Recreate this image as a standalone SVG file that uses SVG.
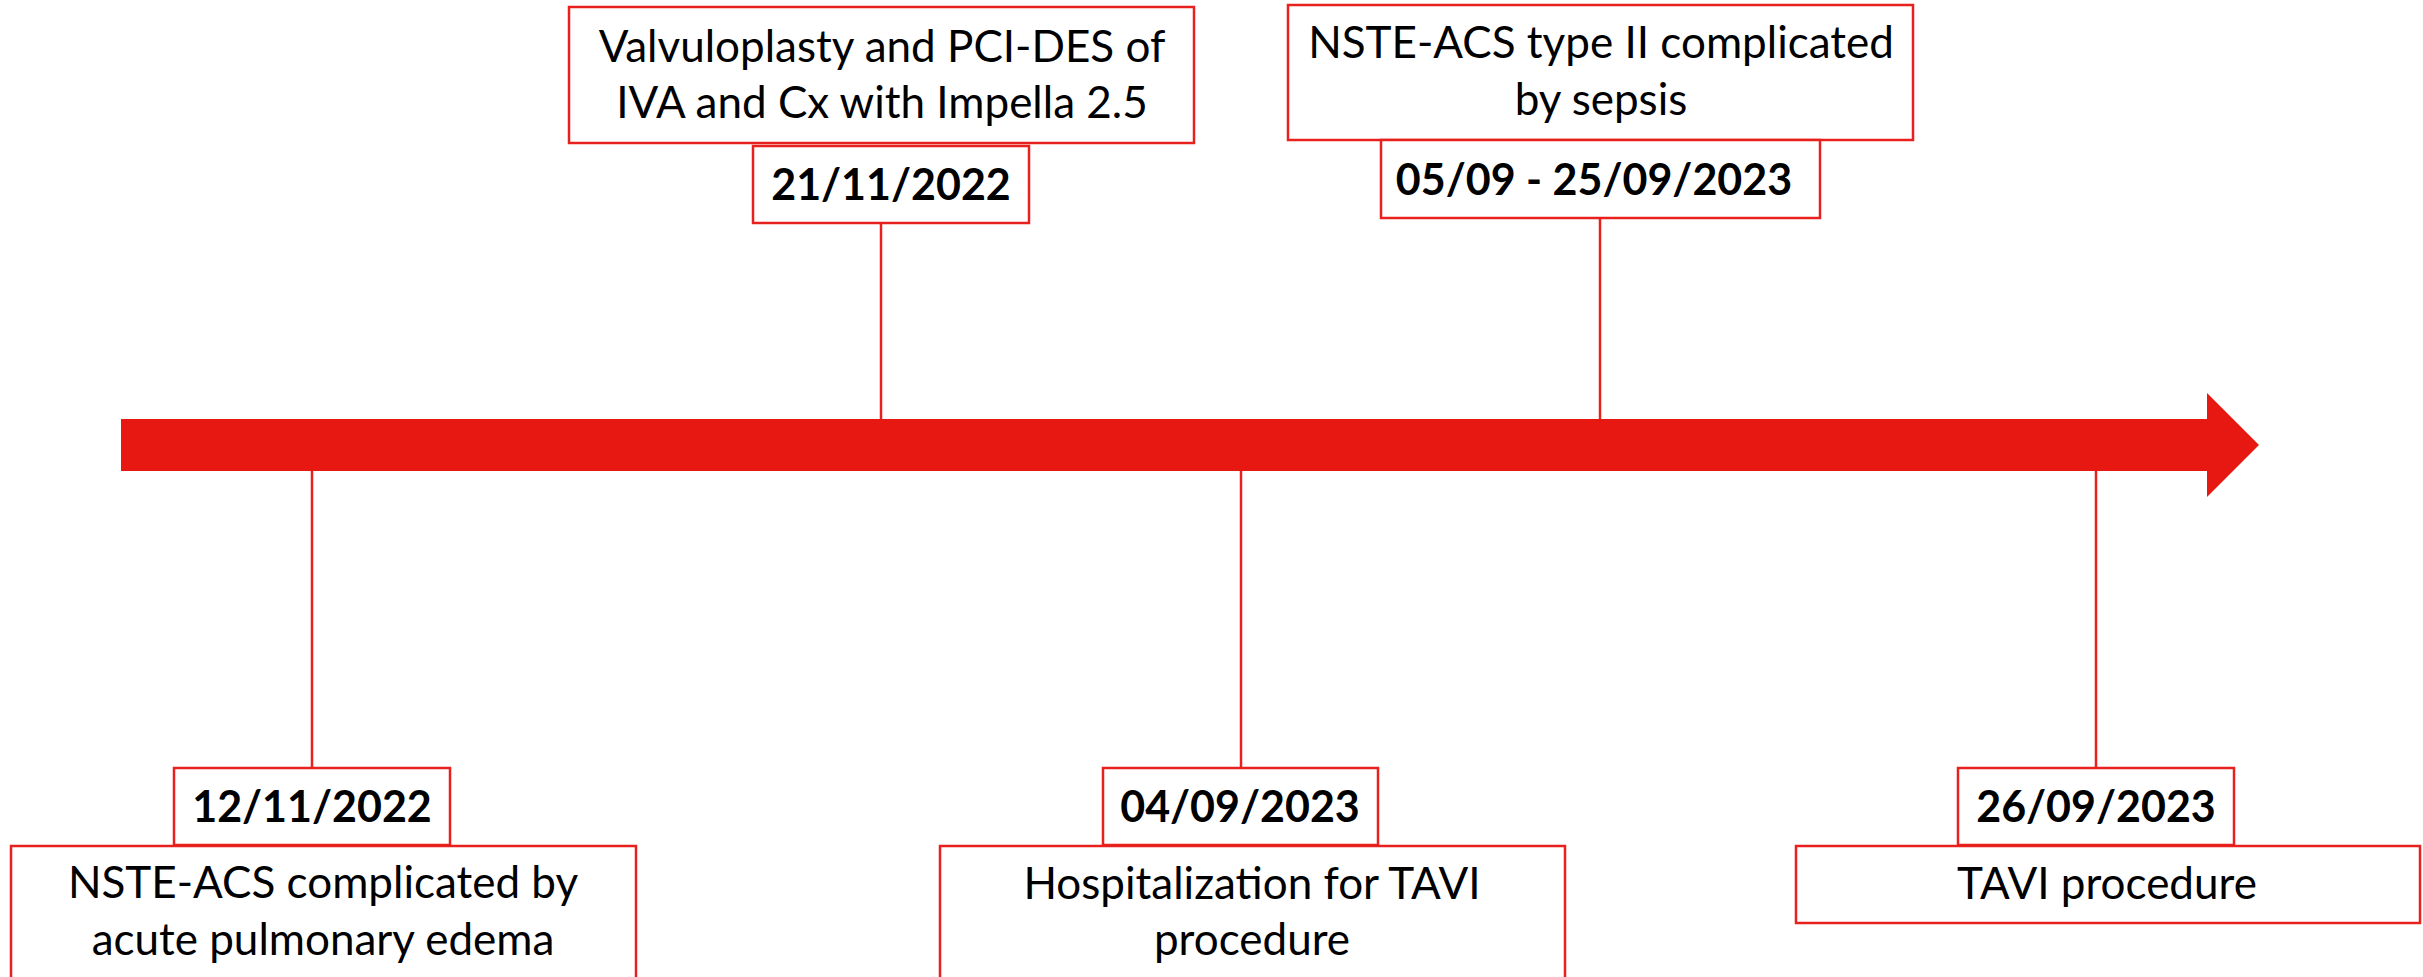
<svg xmlns="http://www.w3.org/2000/svg" width="2423" height="977" viewBox="0 0 2423 977">
<style>
.box{fill:#fff;stroke:#E8201E;stroke-width:2.5}
.conn{stroke:#E8201E;stroke-width:2.5;fill:none}
.t{font-family:Lato,"Liberation Sans",sans-serif;font-size:44px;fill:#000;text-anchor:middle}
.d{font-family:Lato,"Liberation Sans",sans-serif;font-size:43px;font-weight:bold;fill:#000;text-anchor:middle}
</style>
<rect width="2423" height="977" fill="#fff"/>
<g id="timeline">
<polygon points="121,419 2207,419 2207,393 2259,445 2207,497 2207,471 121,471" fill="#E71812"/>
</g>
<g id="connectors">
<line class="conn" x1="881" y1="223" x2="881" y2="419"/>
<line class="conn" x1="1600" y1="218" x2="1600" y2="419"/>
<line class="conn" x1="312" y1="471" x2="312" y2="768"/>
<line class="conn" x1="1241" y1="471" x2="1241" y2="768"/>
<line class="conn" x1="2096" y1="471" x2="2096" y2="768"/>
</g>
<g id="event-2022-11-21">
<rect class="box" x="569" y="7" width="625" height="136"/>
<text class="t" x="882" y="62">Valvuloplasty and PCI-DES of</text>
<text class="t" x="882" y="118">IVA and Cx with Impella 2.5</text>
<rect class="box" x="753" y="146" width="276" height="77"/>
<text class="d" x="891" y="200">21/11/2022</text>
</g>
<g id="event-2023-09-05">
<rect class="box" x="1288" y="5" width="625" height="135"/>
<text class="t" x="1601" y="58">NSTE-ACS type II complicated</text>
<text class="t" x="1601" y="115">by sepsis</text>
<rect class="box" x="1381" y="140" width="439" height="78"/>
<text class="d" x="1594" y="195">05/09 - 25/09/2023</text>
</g>
<g id="event-2022-11-12">
<rect class="box" x="174" y="768" width="276" height="77"/>
<text class="d" x="312" y="822">12/11/2022</text>
<rect class="box" x="11" y="846" width="625" height="150"/>
<text class="t" x="323" y="898">NSTE-ACS complicated by</text>
<text class="t" x="323" y="955">acute pulmonary edema</text>
</g>
<g id="event-2023-09-04">
<rect class="box" x="1103" y="768" width="275" height="77"/>
<text class="d" x="1240" y="822">04/09/2023</text>
<rect class="box" x="940" y="846" width="625" height="150"/>
<text class="t" x="1252" y="899">Hospitalization for TAVI</text>
<text class="t" x="1252" y="955">procedure</text>
</g>
<g id="event-2023-09-26">
<rect class="box" x="1958" y="768" width="276" height="77"/>
<text class="d" x="2096" y="822">26/09/2023</text>
<rect class="box" x="1796" y="846" width="624" height="77"/>
<text class="t" x="2107" y="899">TAVI procedure</text>
</g>
</svg>
